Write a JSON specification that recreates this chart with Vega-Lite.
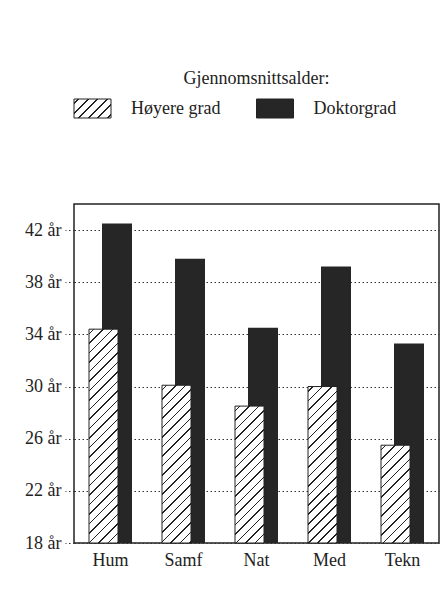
{
  "$schema": "https://vega.github.io/schema/vega-lite/v6.json",
  "autosize": {"type": "pad"},
  "padding": {"left": 23, "top": 69, "right": 8, "bottom": 30},
  "background": "white",
  "bounds": "flush",
  "spacing": 86,
  "config": {
    "view": {"stroke": null},
    "axis": {"labelFont": "Liberation Serif", "labelFontSize": 18, "labelColor": "#222", "title": null},
    "text": {"font": "Liberation Serif"}
  },
  "vconcat": [
    {
      "width": 365,
      "height": 19,
      "title": {"text": "Gjennomsnittsalder:", "font": "Liberation Serif", "fontSize": 18, "fontWeight": "normal", "color": "#222", "anchor": "middle", "frame": "group", "offset": 11},
      "data": {"values": [
        {"grad": "Høyere grad"},
        {"grad": "Doktorgrad"}
      ]},
      "encoding": {
        "x": {"field": "grad", "type": "nominal", "sort": null, "scale": {"paddingInner": 0, "paddingOuter": 0}, "axis": null}
      },
      "layer": [
        {
          "mark": {"type": "bar", "width": 37, "xOffset": -72.75, "stroke": "#222", "strokeWidth": 1, "opacity": 1},
          "encoding": {
            "fill": {"condition": {"test": "datum.grad === 'Høyere grad'", "value":
              {"gradient": "linear", "x1": 0, "y1": 0, "x2": 5.418, "y2": 2.782, "stops": [
                {"offset":0.01575,"color":"#fff"},{"offset":0.01575,"color":"#222"},{"offset":0.02175,"color":"#222"},{"offset":0.02175,"color":"#fff"},
                {"offset":0.05325,"color":"#fff"},{"offset":0.05325,"color":"#222"},{"offset":0.05925,"color":"#222"},{"offset":0.05925,"color":"#fff"},
                {"offset":0.09075,"color":"#fff"},{"offset":0.09075,"color":"#222"},{"offset":0.09675,"color":"#222"},{"offset":0.09675,"color":"#fff"},
                {"offset":0.12825,"color":"#fff"},{"offset":0.12825,"color":"#222"},{"offset":0.13425,"color":"#222"},{"offset":0.13425,"color":"#fff"},
                {"offset":0.16575,"color":"#fff"},{"offset":0.16575,"color":"#222"},{"offset":0.17175,"color":"#222"},{"offset":0.17175,"color":"#fff"},
                {"offset":0.20325,"color":"#fff"},{"offset":0.20325,"color":"#222"},{"offset":0.20925,"color":"#222"},{"offset":0.20925,"color":"#fff"}
              ]}}, "value": "#262626"}
          }
        },
        {
          "mark": {"type": "text", "align": "left", "baseline": "middle", "xOffset": -34.25, "font": "Liberation Serif", "fontSize": 18, "color": "#222"},
          "encoding": {"text": {"field": "grad", "type": "nominal"}}
        }
      ]
    },
    {
      "width": 365,
      "height": 339,
      "view": {"stroke": "#222", "strokeWidth": 1.5},
      "data": {"values": [
        {"cat": "Hum", "grad": "Høyere grad", "alder": 34.4},
        {"cat": "Hum", "grad": "Doktorgrad", "alder": 42.5},
        {"cat": "Samf", "grad": "Høyere grad", "alder": 30.1},
        {"cat": "Samf", "grad": "Doktorgrad", "alder": 39.8},
        {"cat": "Nat", "grad": "Høyere grad", "alder": 28.5},
        {"cat": "Nat", "grad": "Doktorgrad", "alder": 34.5},
        {"cat": "Med", "grad": "Høyere grad", "alder": 30.0},
        {"cat": "Med", "grad": "Doktorgrad", "alder": 39.2},
        {"cat": "Tekn", "grad": "Høyere grad", "alder": 25.5},
        {"cat": "Tekn", "grad": "Doktorgrad", "alder": 33.3}
      ]},
      "encoding": {
        "x": {"field": "cat", "type": "nominal", "sort": null, "scale": {"paddingInner": 0, "paddingOuter": 0}, "axis": {"labelAngle": 0, "ticks": false, "domain": false, "labelPadding": 8}},
        "y": {"field": "alder", "type": "quantitative", "scale": {"domain": [18, 44], "zero": false, "nice": false}, "axis": {"values": [18, 22, 26, 30, 34, 38, 42], "labelExpr": "datum.value + ' år'", "grid": true, "gridDash": [1.5, 2.5], "gridColor": "#333", "gridWidth": 1.2, "tickDash": [1.5, 2.5], "tickColor": "#333", "tickWidth": 1.2, "tickSize": 9, "domain": false, "labelPadding": 4}},
        "y2": {"datum": 18}
      },
      "layer": [
        {
          "transform": [{"filter": "datum.grad === 'Doktorgrad'"}],
          "mark": {"type": "bar", "width": 30, "xOffset": 6.5, "fill": "#262626", "opacity": 1}
        },
        {
          "transform": [{"filter": "datum.grad === 'Høyere grad'"}],
          "mark": {"type": "bar", "width": 29, "xOffset": -7, "stroke": "#222", "strokeWidth": 1, "opacity": 1},
          "encoding": {
            "fill": {"condition": [
              {"test": "datum.cat === 'Hum'", "value":
              {"gradient": "linear", "x1": 0, "y1": 0, "x2": 0.15782, "y2": 1.16349, "stops": [
                {"offset":0.01575,"color":"#fff"},{"offset":0.01575,"color":"#222"},{"offset":0.02175,"color":"#222"},{"offset":0.02175,"color":"#fff"},
                {"offset":0.05325,"color":"#fff"},{"offset":0.05325,"color":"#222"},{"offset":0.05925,"color":"#222"},{"offset":0.05925,"color":"#fff"},
                {"offset":0.09075,"color":"#fff"},{"offset":0.09075,"color":"#222"},{"offset":0.09675,"color":"#222"},{"offset":0.09675,"color":"#fff"},
                {"offset":0.12825,"color":"#fff"},{"offset":0.12825,"color":"#222"},{"offset":0.13425,"color":"#222"},{"offset":0.13425,"color":"#fff"},
                {"offset":0.16575,"color":"#fff"},{"offset":0.16575,"color":"#222"},{"offset":0.17175,"color":"#222"},{"offset":0.17175,"color":"#fff"},
                {"offset":0.20325,"color":"#fff"},{"offset":0.20325,"color":"#222"},{"offset":0.20925,"color":"#222"},{"offset":0.20925,"color":"#fff"},
                {"offset":0.24075,"color":"#fff"},{"offset":0.24075,"color":"#222"},{"offset":0.24675,"color":"#222"},{"offset":0.24675,"color":"#fff"},
                {"offset":0.27825,"color":"#fff"},{"offset":0.27825,"color":"#222"},{"offset":0.28425,"color":"#222"},{"offset":0.28425,"color":"#fff"},
                {"offset":0.31575,"color":"#fff"},{"offset":0.31575,"color":"#222"},{"offset":0.32175,"color":"#222"},{"offset":0.32175,"color":"#fff"},
                {"offset":0.35325,"color":"#fff"},{"offset":0.35325,"color":"#222"},{"offset":0.35925,"color":"#222"},{"offset":0.35925,"color":"#fff"},
                {"offset":0.39075,"color":"#fff"},{"offset":0.39075,"color":"#222"},{"offset":0.39675,"color":"#222"},{"offset":0.39675,"color":"#fff"},
                {"offset":0.42825,"color":"#fff"},{"offset":0.42825,"color":"#222"},{"offset":0.43425,"color":"#222"},{"offset":0.43425,"color":"#fff"},
                {"offset":0.46575,"color":"#fff"},{"offset":0.46575,"color":"#222"},{"offset":0.47175,"color":"#222"},{"offset":0.47175,"color":"#fff"},
                {"offset":0.50325,"color":"#fff"},{"offset":0.50325,"color":"#222"},{"offset":0.50925,"color":"#222"},{"offset":0.50925,"color":"#fff"},
                {"offset":0.54075,"color":"#fff"},{"offset":0.54075,"color":"#222"},{"offset":0.54675,"color":"#222"},{"offset":0.54675,"color":"#fff"},
                {"offset":0.57825,"color":"#fff"},{"offset":0.57825,"color":"#222"},{"offset":0.58425,"color":"#222"},{"offset":0.58425,"color":"#fff"},
                {"offset":0.61575,"color":"#fff"},{"offset":0.61575,"color":"#222"},{"offset":0.62175,"color":"#222"},{"offset":0.62175,"color":"#fff"},
                {"offset":0.65325,"color":"#fff"},{"offset":0.65325,"color":"#222"},{"offset":0.65925,"color":"#222"},{"offset":0.65925,"color":"#fff"},
                {"offset":0.69075,"color":"#fff"},{"offset":0.69075,"color":"#222"},{"offset":0.69675,"color":"#222"},{"offset":0.69675,"color":"#fff"},
                {"offset":0.72825,"color":"#fff"},{"offset":0.72825,"color":"#222"},{"offset":0.73425,"color":"#222"},{"offset":0.73425,"color":"#fff"},
                {"offset":0.76575,"color":"#fff"},{"offset":0.76575,"color":"#222"},{"offset":0.77175,"color":"#222"},{"offset":0.77175,"color":"#fff"},
                {"offset":0.80325,"color":"#fff"},{"offset":0.80325,"color":"#222"},{"offset":0.80925,"color":"#222"},{"offset":0.80925,"color":"#fff"},
                {"offset":0.84075,"color":"#fff"},{"offset":0.84075,"color":"#222"},{"offset":0.84675,"color":"#222"},{"offset":0.84675,"color":"#fff"},
                {"offset":0.87825,"color":"#fff"},{"offset":0.87825,"color":"#222"},{"offset":0.88425,"color":"#222"},{"offset":0.88425,"color":"#fff"},
                {"offset":0.91575,"color":"#fff"},{"offset":0.91575,"color":"#222"},{"offset":0.92175,"color":"#222"},{"offset":0.92175,"color":"#fff"},
                {"offset":0.95325,"color":"#fff"},{"offset":0.95325,"color":"#222"},{"offset":0.95925,"color":"#222"},{"offset":0.95925,"color":"#fff"}
              ]}},
              {"test": "datum.cat === 'Samf'", "value":
              {"gradient": "linear", "x1": 0, "y1": 0, "x2": 0.28539, "y2": 1.55294, "stops": [
                {"offset":0.01575,"color":"#fff"},{"offset":0.01575,"color":"#222"},{"offset":0.02175,"color":"#222"},{"offset":0.02175,"color":"#fff"},
                {"offset":0.05325,"color":"#fff"},{"offset":0.05325,"color":"#222"},{"offset":0.05925,"color":"#222"},{"offset":0.05925,"color":"#fff"},
                {"offset":0.09075,"color":"#fff"},{"offset":0.09075,"color":"#222"},{"offset":0.09675,"color":"#222"},{"offset":0.09675,"color":"#fff"},
                {"offset":0.12825,"color":"#fff"},{"offset":0.12825,"color":"#222"},{"offset":0.13425,"color":"#222"},{"offset":0.13425,"color":"#fff"},
                {"offset":0.16575,"color":"#fff"},{"offset":0.16575,"color":"#222"},{"offset":0.17175,"color":"#222"},{"offset":0.17175,"color":"#fff"},
                {"offset":0.20325,"color":"#fff"},{"offset":0.20325,"color":"#222"},{"offset":0.20925,"color":"#222"},{"offset":0.20925,"color":"#fff"},
                {"offset":0.24075,"color":"#fff"},{"offset":0.24075,"color":"#222"},{"offset":0.24675,"color":"#222"},{"offset":0.24675,"color":"#fff"},
                {"offset":0.27825,"color":"#fff"},{"offset":0.27825,"color":"#222"},{"offset":0.28425,"color":"#222"},{"offset":0.28425,"color":"#fff"},
                {"offset":0.31575,"color":"#fff"},{"offset":0.31575,"color":"#222"},{"offset":0.32175,"color":"#222"},{"offset":0.32175,"color":"#fff"},
                {"offset":0.35325,"color":"#fff"},{"offset":0.35325,"color":"#222"},{"offset":0.35925,"color":"#222"},{"offset":0.35925,"color":"#fff"},
                {"offset":0.39075,"color":"#fff"},{"offset":0.39075,"color":"#222"},{"offset":0.39675,"color":"#222"},{"offset":0.39675,"color":"#fff"},
                {"offset":0.42825,"color":"#fff"},{"offset":0.42825,"color":"#222"},{"offset":0.43425,"color":"#222"},{"offset":0.43425,"color":"#fff"},
                {"offset":0.46575,"color":"#fff"},{"offset":0.46575,"color":"#222"},{"offset":0.47175,"color":"#222"},{"offset":0.47175,"color":"#fff"},
                {"offset":0.50325,"color":"#fff"},{"offset":0.50325,"color":"#222"},{"offset":0.50925,"color":"#222"},{"offset":0.50925,"color":"#fff"},
                {"offset":0.54075,"color":"#fff"},{"offset":0.54075,"color":"#222"},{"offset":0.54675,"color":"#222"},{"offset":0.54675,"color":"#fff"},
                {"offset":0.57825,"color":"#fff"},{"offset":0.57825,"color":"#222"},{"offset":0.58425,"color":"#222"},{"offset":0.58425,"color":"#fff"},
                {"offset":0.61575,"color":"#fff"},{"offset":0.61575,"color":"#222"},{"offset":0.62175,"color":"#222"},{"offset":0.62175,"color":"#fff"},
                {"offset":0.65325,"color":"#fff"},{"offset":0.65325,"color":"#222"},{"offset":0.65925,"color":"#222"},{"offset":0.65925,"color":"#fff"},
                {"offset":0.69075,"color":"#fff"},{"offset":0.69075,"color":"#222"},{"offset":0.69675,"color":"#222"},{"offset":0.69675,"color":"#fff"},
                {"offset":0.72825,"color":"#fff"},{"offset":0.72825,"color":"#222"},{"offset":0.73425,"color":"#222"},{"offset":0.73425,"color":"#fff"}
              ]}},
              {"test": "datum.cat === 'Nat'", "value":
              {"gradient": "linear", "x1": 0, "y1": 0, "x2": 0.37516, "y2": 1.77101, "stops": [
                {"offset":0.01575,"color":"#fff"},{"offset":0.01575,"color":"#222"},{"offset":0.02175,"color":"#222"},{"offset":0.02175,"color":"#fff"},
                {"offset":0.05325,"color":"#fff"},{"offset":0.05325,"color":"#222"},{"offset":0.05925,"color":"#222"},{"offset":0.05925,"color":"#fff"},
                {"offset":0.09075,"color":"#fff"},{"offset":0.09075,"color":"#222"},{"offset":0.09675,"color":"#222"},{"offset":0.09675,"color":"#fff"},
                {"offset":0.12825,"color":"#fff"},{"offset":0.12825,"color":"#222"},{"offset":0.13425,"color":"#222"},{"offset":0.13425,"color":"#fff"},
                {"offset":0.16575,"color":"#fff"},{"offset":0.16575,"color":"#222"},{"offset":0.17175,"color":"#222"},{"offset":0.17175,"color":"#fff"},
                {"offset":0.20325,"color":"#fff"},{"offset":0.20325,"color":"#222"},{"offset":0.20925,"color":"#222"},{"offset":0.20925,"color":"#fff"},
                {"offset":0.24075,"color":"#fff"},{"offset":0.24075,"color":"#222"},{"offset":0.24675,"color":"#222"},{"offset":0.24675,"color":"#fff"},
                {"offset":0.27825,"color":"#fff"},{"offset":0.27825,"color":"#222"},{"offset":0.28425,"color":"#222"},{"offset":0.28425,"color":"#fff"},
                {"offset":0.31575,"color":"#fff"},{"offset":0.31575,"color":"#222"},{"offset":0.32175,"color":"#222"},{"offset":0.32175,"color":"#fff"},
                {"offset":0.35325,"color":"#fff"},{"offset":0.35325,"color":"#222"},{"offset":0.35925,"color":"#222"},{"offset":0.35925,"color":"#fff"},
                {"offset":0.39075,"color":"#fff"},{"offset":0.39075,"color":"#222"},{"offset":0.39675,"color":"#222"},{"offset":0.39675,"color":"#fff"},
                {"offset":0.42825,"color":"#fff"},{"offset":0.42825,"color":"#222"},{"offset":0.43425,"color":"#222"},{"offset":0.43425,"color":"#fff"},
                {"offset":0.46575,"color":"#fff"},{"offset":0.46575,"color":"#222"},{"offset":0.47175,"color":"#222"},{"offset":0.47175,"color":"#fff"},
                {"offset":0.50325,"color":"#fff"},{"offset":0.50325,"color":"#222"},{"offset":0.50925,"color":"#222"},{"offset":0.50925,"color":"#fff"},
                {"offset":0.54075,"color":"#fff"},{"offset":0.54075,"color":"#222"},{"offset":0.54675,"color":"#222"},{"offset":0.54675,"color":"#fff"},
                {"offset":0.57825,"color":"#fff"},{"offset":0.57825,"color":"#222"},{"offset":0.58425,"color":"#222"},{"offset":0.58425,"color":"#fff"},
                {"offset":0.61575,"color":"#fff"},{"offset":0.61575,"color":"#222"},{"offset":0.62175,"color":"#222"},{"offset":0.62175,"color":"#fff"},
                {"offset":0.65325,"color":"#fff"},{"offset":0.65325,"color":"#222"},{"offset":0.65925,"color":"#222"},{"offset":0.65925,"color":"#fff"}
              ]}},
              {"test": "datum.cat === 'Med'", "value":
              {"gradient": "linear", "x1": 0, "y1": 0, "x2": 0.29, "y2": 1.56498, "stops": [
                {"offset":0.01575,"color":"#fff"},{"offset":0.01575,"color":"#222"},{"offset":0.02175,"color":"#222"},{"offset":0.02175,"color":"#fff"},
                {"offset":0.05325,"color":"#fff"},{"offset":0.05325,"color":"#222"},{"offset":0.05925,"color":"#222"},{"offset":0.05925,"color":"#fff"},
                {"offset":0.09075,"color":"#fff"},{"offset":0.09075,"color":"#222"},{"offset":0.09675,"color":"#222"},{"offset":0.09675,"color":"#fff"},
                {"offset":0.12825,"color":"#fff"},{"offset":0.12825,"color":"#222"},{"offset":0.13425,"color":"#222"},{"offset":0.13425,"color":"#fff"},
                {"offset":0.16575,"color":"#fff"},{"offset":0.16575,"color":"#222"},{"offset":0.17175,"color":"#222"},{"offset":0.17175,"color":"#fff"},
                {"offset":0.20325,"color":"#fff"},{"offset":0.20325,"color":"#222"},{"offset":0.20925,"color":"#222"},{"offset":0.20925,"color":"#fff"},
                {"offset":0.24075,"color":"#fff"},{"offset":0.24075,"color":"#222"},{"offset":0.24675,"color":"#222"},{"offset":0.24675,"color":"#fff"},
                {"offset":0.27825,"color":"#fff"},{"offset":0.27825,"color":"#222"},{"offset":0.28425,"color":"#222"},{"offset":0.28425,"color":"#fff"},
                {"offset":0.31575,"color":"#fff"},{"offset":0.31575,"color":"#222"},{"offset":0.32175,"color":"#222"},{"offset":0.32175,"color":"#fff"},
                {"offset":0.35325,"color":"#fff"},{"offset":0.35325,"color":"#222"},{"offset":0.35925,"color":"#222"},{"offset":0.35925,"color":"#fff"},
                {"offset":0.39075,"color":"#fff"},{"offset":0.39075,"color":"#222"},{"offset":0.39675,"color":"#222"},{"offset":0.39675,"color":"#fff"},
                {"offset":0.42825,"color":"#fff"},{"offset":0.42825,"color":"#222"},{"offset":0.43425,"color":"#222"},{"offset":0.43425,"color":"#fff"},
                {"offset":0.46575,"color":"#fff"},{"offset":0.46575,"color":"#222"},{"offset":0.47175,"color":"#222"},{"offset":0.47175,"color":"#fff"},
                {"offset":0.50325,"color":"#fff"},{"offset":0.50325,"color":"#222"},{"offset":0.50925,"color":"#222"},{"offset":0.50925,"color":"#fff"},
                {"offset":0.54075,"color":"#fff"},{"offset":0.54075,"color":"#222"},{"offset":0.54675,"color":"#222"},{"offset":0.54675,"color":"#fff"},
                {"offset":0.57825,"color":"#fff"},{"offset":0.57825,"color":"#222"},{"offset":0.58425,"color":"#222"},{"offset":0.58425,"color":"#fff"},
                {"offset":0.61575,"color":"#fff"},{"offset":0.61575,"color":"#222"},{"offset":0.62175,"color":"#222"},{"offset":0.62175,"color":"#fff"},
                {"offset":0.65325,"color":"#fff"},{"offset":0.65325,"color":"#222"},{"offset":0.65925,"color":"#222"},{"offset":0.65925,"color":"#fff"},
                {"offset":0.69075,"color":"#fff"},{"offset":0.69075,"color":"#222"},{"offset":0.69675,"color":"#222"},{"offset":0.69675,"color":"#fff"},
                {"offset":0.72825,"color":"#fff"},{"offset":0.72825,"color":"#222"},{"offset":0.73425,"color":"#222"},{"offset":0.73425,"color":"#fff"}
              ]}}
            ], "value":
              {"gradient": "linear", "x1": 0, "y1": 0, "x2": 0.70601, "y2": 2.38095, "stops": [
                {"offset":0.01575,"color":"#fff"},{"offset":0.01575,"color":"#222"},{"offset":0.02175,"color":"#222"},{"offset":0.02175,"color":"#fff"},
                {"offset":0.05325,"color":"#fff"},{"offset":0.05325,"color":"#222"},{"offset":0.05925,"color":"#222"},{"offset":0.05925,"color":"#fff"},
                {"offset":0.09075,"color":"#fff"},{"offset":0.09075,"color":"#222"},{"offset":0.09675,"color":"#222"},{"offset":0.09675,"color":"#fff"},
                {"offset":0.12825,"color":"#fff"},{"offset":0.12825,"color":"#222"},{"offset":0.13425,"color":"#222"},{"offset":0.13425,"color":"#fff"},
                {"offset":0.16575,"color":"#fff"},{"offset":0.16575,"color":"#222"},{"offset":0.17175,"color":"#222"},{"offset":0.17175,"color":"#fff"},
                {"offset":0.20325,"color":"#fff"},{"offset":0.20325,"color":"#222"},{"offset":0.20925,"color":"#222"},{"offset":0.20925,"color":"#fff"},
                {"offset":0.24075,"color":"#fff"},{"offset":0.24075,"color":"#222"},{"offset":0.24675,"color":"#222"},{"offset":0.24675,"color":"#fff"},
                {"offset":0.27825,"color":"#fff"},{"offset":0.27825,"color":"#222"},{"offset":0.28425,"color":"#222"},{"offset":0.28425,"color":"#fff"},
                {"offset":0.31575,"color":"#fff"},{"offset":0.31575,"color":"#222"},{"offset":0.32175,"color":"#222"},{"offset":0.32175,"color":"#fff"},
                {"offset":0.35325,"color":"#fff"},{"offset":0.35325,"color":"#222"},{"offset":0.35925,"color":"#222"},{"offset":0.35925,"color":"#fff"},
                {"offset":0.39075,"color":"#fff"},{"offset":0.39075,"color":"#222"},{"offset":0.39675,"color":"#222"},{"offset":0.39675,"color":"#fff"},
                {"offset":0.42825,"color":"#fff"},{"offset":0.42825,"color":"#222"},{"offset":0.43425,"color":"#222"},{"offset":0.43425,"color":"#fff"},
                {"offset":0.46575,"color":"#fff"},{"offset":0.46575,"color":"#222"},{"offset":0.47175,"color":"#222"},{"offset":0.47175,"color":"#fff"}
              ]}
            }
          }
        }
      ]
    }
  ]
}
